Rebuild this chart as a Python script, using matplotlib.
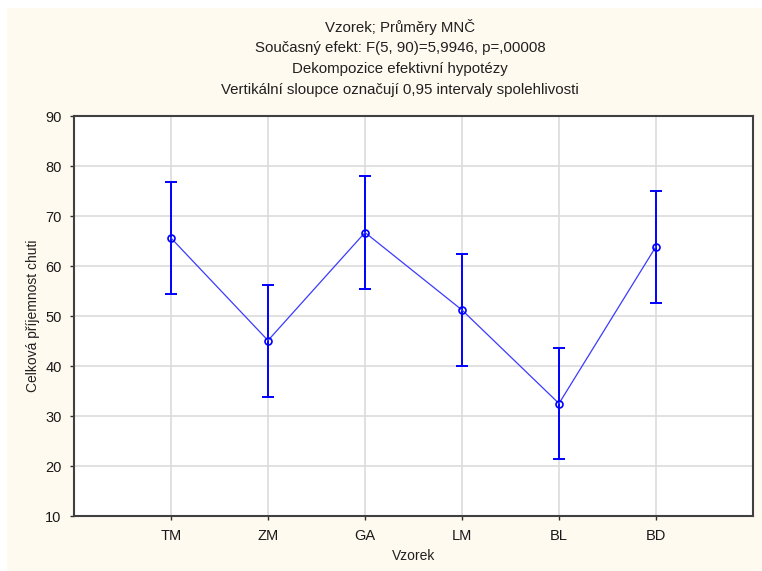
import matplotlib.pyplot as plt
from matplotlib.patches import Rectangle

samples = ['TM', 'ZM', 'GA', 'LM', 'BL', 'BD']
means = [65.6, 45.1, 66.7, 51.2, 32.5, 63.9]
ci_low = [54.5, 33.9, 55.4, 40.1, 21.4, 52.7]
ci_high = [76.8, 56.2, 78.0, 62.4, 43.6, 75.1]

title_lines = [
    'Vzorek; Průměry MNČ',
    'Současný efekt: F(5, 90)=5,9946, p=,00008',
    'Dekompozice efektivní hypotézy',
    'Vertikální sloupce označují 0,95 intervaly spolehlivosti',
]

plt.rcParams['font.family'] = ['Liberation Sans', 'DejaVu Sans']

W, H = 762, 571
fig = plt.figure(figsize=(W / 100, H / 100), dpi=100, facecolor='white')
# cream panel behind everything
fig.patches.append(Rectangle((7 / W, 0), 1 - 7 / W, 1 - 8 / H, transform=fig.transFigure,
                             facecolor='#fffaf0', edgecolor='none', zorder=-5))

ax = fig.add_axes([74 / W, 1 - 516 / H, (753 - 74) / W, (516 - 116) / H])
ax.set_facecolor('white')

x = list(range(1, len(samples) + 1))
yerr = [[m - lo for m, lo in zip(means, ci_low)], [hi - m for m, hi in zip(means, ci_high)]]
ax.errorbar(x, means, yerr=yerr, fmt='none', ecolor='#0000ff', elinewidth=1.4,
            capsize=4.5, capthick=1.4, zorder=3)
ax.plot(x, means, color='#3a3aff', linewidth=0.9, marker='o', markersize=5,
        markerfacecolor='none', markeredgecolor='#0000ff', markeredgewidth=1.2, zorder=4)

ax.set_xlim(0, 7)
ax.set_ylim(10, 90)
ax.set_xticks(x)
ax.set_xticklabels(samples)
ax.set_yticks(range(10, 91, 10))
ax.grid(True, color='#dcdcdc', linewidth=1.2)
ax.set_axisbelow(True)
for s in ax.spines.values():
    s.set_color('#404040')
    s.set_linewidth(1.5)
ax.tick_params(direction='out', length=3, width=1, color='#303030',
               labelcolor='#1a1a1a', labelsize=10.5)
ax.tick_params(axis='y', pad=6)
ax.tick_params(axis='x', pad=6)

ax.set_xlabel('Vzorek', fontsize=10, color='#202020', labelpad=5)
ax.set_ylabel('Celková příjemnost chuti', fontsize=10, color='#202020', labelpad=4)

for i, line in enumerate(title_lines):
    fig.text(400 / W, 1 - (27 + 21 * i) / H, line, ha='center', va='center',
             fontsize=10.8, color='#202020')

fig.savefig('out.png', dpi=100, facecolor='white')
